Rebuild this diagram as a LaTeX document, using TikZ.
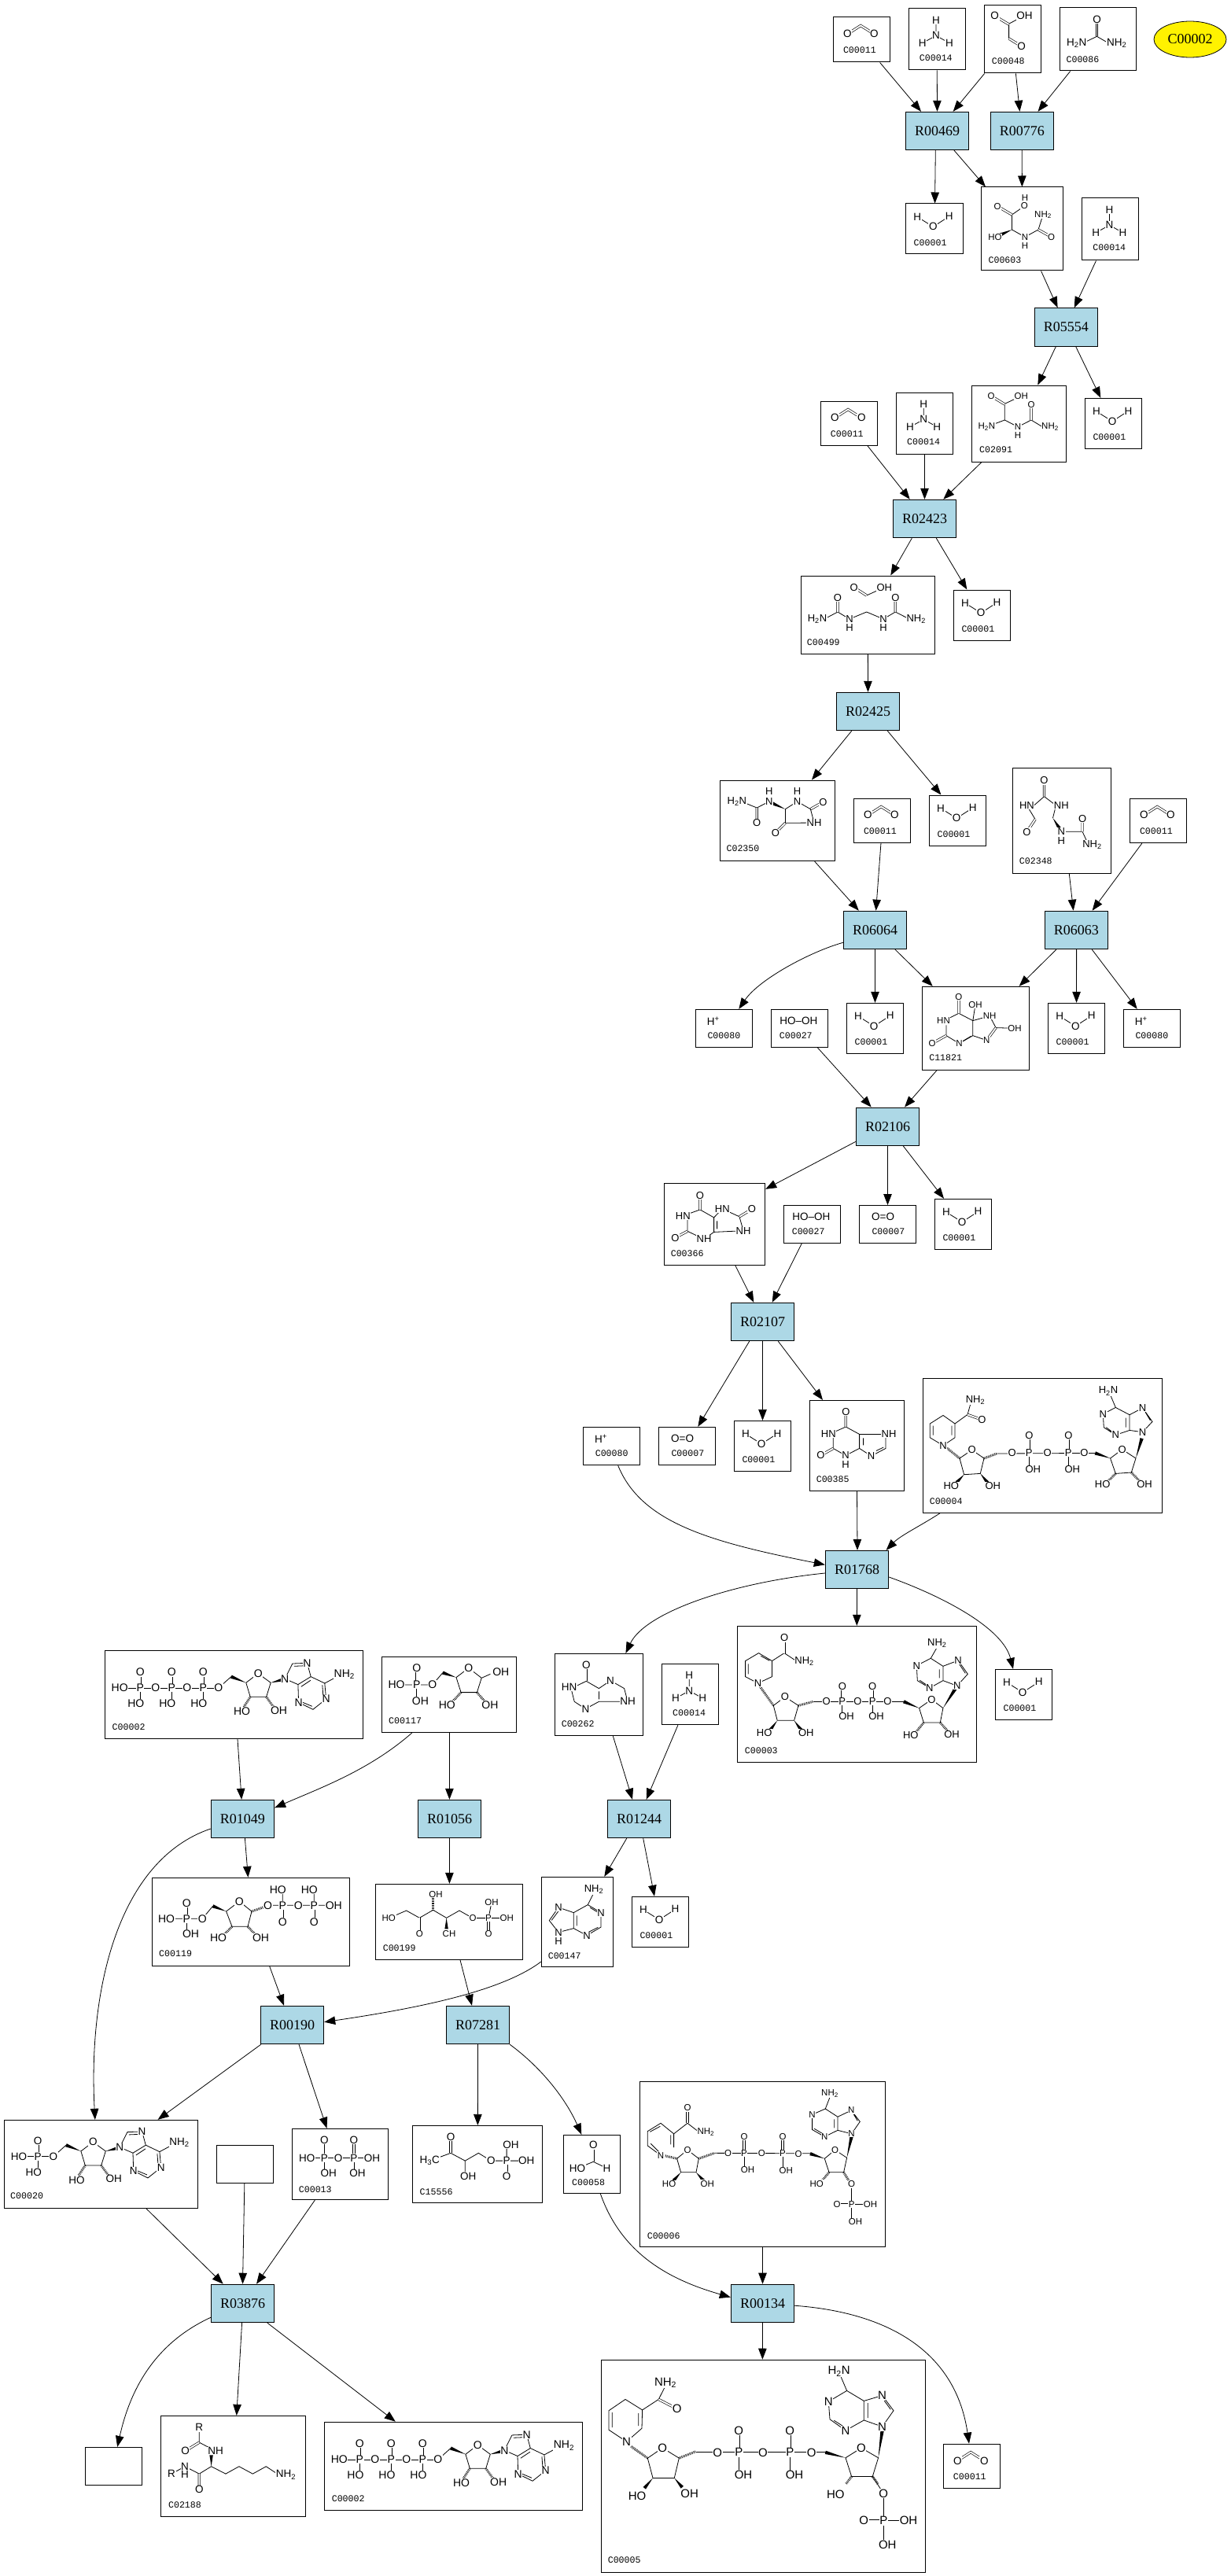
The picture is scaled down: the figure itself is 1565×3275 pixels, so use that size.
\documentclass[tikz,border=0pt]{standalone}
\usepackage{fontspec}
\setmainfont{Liberation Serif}
\setsansfont{Liberation Sans}
\setmonofont{Liberation Mono}
\usepackage{tikz}
\usetikzlibrary{calc,positioning,shapes.geometric,arrows.meta}

\definecolor{reactblue}{HTML}{ADD8E6}
\newcommand{\asz}{13.5}
\tikzset{
	bond/.style={line width=.8pt},
	dbl/.style={double,double distance=1.9pt,line width=.65pt},
	hashbond/.style={line width=3pt,dash pattern=on .7pt off 1.1pt},
	atom/.style={font=\fontsize{\asz}{\asz}\selectfont\sffamily,inner sep=.6pt,fill=white},
	cmpdlabel/.style={font=\fontsize{11.6}{11.6}\selectfont\ttfamily,inner sep=0pt,anchor=west},
	cmpdbox/.style={draw,line width=1pt,fill=white},
	reaction/.style={draw,line width=1pt,fill=reactblue,minimum width=80.4pt,minimum height=48.4pt,font=\fontsize{18}{18}\selectfont},
	edge/.style={line width=.8pt,-{Triangle[length=14pt,width=10.5pt]}}
}
\newcounter{atomno}
\newcommand{\atm}[2]{\stepcounter{atomno}\node[atom] (atm\theatomno) at (#1) {#2};}
\newcommand{\lbl}[3]{\stepcounter{atomno}\node[cmpdlabel] (lbl\theatomno) at (#1,#2) {#3};}
\newcommand{\wdg}[2]{\fill ($(#2)!2.2pt!90:(#1)$) -- (#1) -- ($(#2)!2.2pt!-90:(#1)$) -- cycle;}
\newcommand{\hsh}[2]{\draw[hashbond] (#1) -- (#2);}
\newcommand{\sub}[1]{\textsubscript{#1}}
\newcommand{\cmpd}[6]{%
	\node[cmpdbox,minimum width={(#4-#2)*1pt},minimum height={(#5-#3)*1pt}] (#1) at ({(#2+#4)/2},{(#3+#5)/2}) {};
	\begin{scope}[shift={(#2,#3)}] #6 \end{scope}}
% phosphate with =O above and HO below
\newcommand{\phos}[2]{%
	\draw[dbl] (#1,#2) -- (#1,#2-20);
	\draw[bond] (#1,#2) -- (#1,#2+20);
	\atm{#1,#2}{P}\atm{#1,#2-20}{O}\atm{#1-5.4,#2+20}{HO}}

% small molecules
\newcommand{\mWater}{%
	\draw[bond] (14.7,16.7) -- (34.8,29.3) -- (55.3,16);
	\atm{14.7,16.7}{H}\atm{34.8,29.3}{O}\atm{55.3,16}{H}
	\lbl{10}{49.7}{C00001}}
\newcommand{\mCarbon}{%
	\draw[dbl] (18,21.3) -- (34.8,10.5) -- (52,21.3);
	\atm{18,21.3}{O}\atm{52,21.3}{O}
	\lbl{12.4}{41.7}{C00011}}
\newcommand{\mAmmonia}{%
	\draw[bond] (35,14.7) -- (35,34.3) (17.8,43.7) -- (35,34.3) -- (51.9,43.7);
	\atm{35,14.7}{H}\atm{35,34.3}{N}\atm{17.8,43.7}{H}\atm{51.9,43.7}{H}
	\lbl{13.7}{62.7}{C00014}}
\newcommand{\mPeroxide}{%
	\atm{35,14.6}{HO--OH}
	\lbl{10.3}{33.2}{C00027}}
\newcommand{\mOxygen}{%
	\atm{30.3,14.3}{O=O}
	\lbl{16}{33.2}{C00007}}
\newcommand{\mProton}{%
	\atm{22.7,15}{H\textsuperscript{+}}
	\lbl{15.3}{33.7}{C00080}}
\newcommand{\mGlyox}{%
	\draw[bond] (44,16.7) -- (31.6,23.3) -- (31.6,42);
	\draw[dbl] (13.7,13.3) -- (31.6,24) (31.6,42) -- (47.7,52);
	\atm{13.7,13.3}{O}\atm{51.5,13.3}{OH}\atm{47.7,52}{O}
	\lbl{9.7}{70.3}{C00048}}
\newcommand{\mUrea}{%
	\draw[bond] (30,44.7) -- (47.5,36.3) -- (62,44.7);
	\draw[dbl] (47.5,14.7) -- (47.5,36.3);
	\atm{47.5,14.7}{O}\atm{21.8,44.7}{H\sub{2}N}\atm{72.7,44.7}{NH\sub{2}}
	\lbl{8.4}{65.7}{C00086}}
\newcommand{\mFormate}{%
	\draw[bond] (17.7,42.3) -- (38,34) -- (55.3,42.3);
	\draw[dbl] (38,13) -- (38,34);
	\atm{38,13}{O}\atm{17.7,42.3}{HO}\atm{55.3,42.3}{H}
	\lbl{10.7}{60.7}{C00058}}

% purines, ureides
\newcommand{\mHydroxy}{\renewcommand{\asz}{11.5}%
	\draw[bond] (55.3,24) -- (39.5,35) -- (39.5,54) -- (56,63.3) -- (73,54) -- (79,35);
	\draw[dbl] (21.2,24.3) -- (39.5,35) (73,54) -- (89.7,63.3);
	\wdg{39.5,54}{25,60.5}
	\atm{56,14}{H}\atm{55.3,24}{O}\atm{21.2,24.3}{O}\atm{79,35}{NH\sub{2}}\atm{18,63.3}{HO}\atm{56,63.3}{N}\atm{56,74.3}{H}\atm{89.7,63.3}{O}
	\lbl{9.4}{92.3}{C00603}}
\newcommand{\mAllantoate}{\renewcommand{\asz}{11.5}%
	\draw[bond] (63,13.4) -- (42,23.4) -- (42,44) -- (19,52.7) (42,44) -- (58.7,52.7) -- (75.7,44) -- (90,52.7);
	\draw[dbl] (24.7,13.4) -- (42,24) (75.7,24.4) -- (75.7,44);
	\atm{24.7,13.4}{O}\atm{63,13.4}{OH}\atm{19,52.7}{H\sub{2}N}\atm{58.7,52.7}{N}\atm{58.7,63.4}{H}\atm{75.7,24.4}{O}\atm{99.7,52.7}{NH\sub{2}}
	\lbl{9.7}{81.6}{C02091}}
\newcommand{\mAllantoic}{\renewcommand{\asz}{13}%
	\draw[bond] (30,55) -- (47,46) -- (62,55) -- (83.7,46) -- (105,55) -- (120.3,46) -- (138,55);
	\draw[bond] (83.7,25) -- (106.3,14.8);
	\draw[dbl] (47,28) -- (47,46) (120.3,28) -- (120.3,46) (67.7,14.8) -- (83.7,25);
	\atm{67.7,14.8}{O}\atm{106.3,14.8}{OH}\atm{47,28}{O}\atm{120.3,28}{O}\atm{21,55}{H\sub{2}N}\atm{62,55}{N}\atm{62,66}{H}\atm{105,55}{N}\atm{105,66}{H}\atm{146.7,55}{NH\sub{2}}
	\lbl{7.7}{84.4}{C00499}}
\newcommand{\mHydantoin}{\renewcommand{\asz}{13}%
	\draw[bond] (32,29) -- (46.8,35) -- (62.5,27);
	\draw[dbl] (46.8,53.7) -- (46.8,35) (115,36.7) -- (131,27.7) (83,54.3) -- (70.4,66.7);
	\wdg{83,36.7}{66,29}
	\draw[bond] (83,36.7) -- (98.2,27) -- (115,36.7) -- (119.6,54) -- (83,54.3) -- cycle;
	\atm{21.4,27}{H\sub{2}N}\atm{62.5,14.3}{H}\atm{62.5,27}{N}\atm{98.2,14.3}{H}\atm{98.2,27}{N}\atm{131,27.7}{O}\atm{119.6,54}{NH}\atm{70.4,66.7}{O}\atm{46.8,53.7}{O}
	\lbl{8}{86.7}{C02350}}
\newcommand{\mUreidoGly}{\renewcommand{\asz}{13}%
	\draw[bond] (27,47.7) -- (40,36.3) -- (55,47.7) -- (51,63.7) (17.9,47.7) -- (28.6,65.3) (61.8,81) -- (88.6,81) -- (95,95);
	\draw[dbl] (40,16) -- (40,36.3) (28.6,65.3) -- (17.9,81.3) (88.6,64.3) -- (88.6,81);
	\wdg{51,63.7}{59.5,77}
	\atm{40,16}{O}\atm{17.9,47.7}{HN}\atm{61.8,47.7}{NH}\atm{17.9,81.3}{O}\atm{61.8,81}{N}\atm{61.8,93}{H}\atm{88.6,64.3}{O}\atm{101,97.7}{NH\sub{2}}
	\lbl{8.2}{118.7}{C02348}}
\newcommand{\mHydroxyUrate}{\renewcommand{\asz}{11.5}%
	\draw[bond] (27,43.7) -- (46.4,34) -- (64.3,43.3) -- (64.3,62.3) -- (47,72.3) -- (30.4,62.3) -- (30.4,49);
	\draw[bond] (64.3,43.3) -- (67.5,23) (64.3,43.3) -- (85.7,37.3) -- (93.6,52.3) -- (117.5,53) (64.3,62.3) -- (81.8,68.3);
	\draw[dbl] (46.4,13.3) -- (46.4,34) (30.4,62.3) -- (12.5,72.3) (93.6,52.3) -- (81.8,68.3);
	\draw[bond] (52,69) -- (62,63);
	\atm{46.4,13.3}{O}\atm{67.5,23}{OH}\atm{85.7,37.3}{NH}\atm{117.5,53}{OH}\atm{81.8,68.3}{N}\atm{47,72.3}{N}\atm{12.5,72.3}{O}\atm{27,43.7}{HN}
	\lbl{8.6}{90.7}{C11821}}
\newcommand{\mUrate}{\renewcommand{\asz}{13}%
	\draw[bond] (24,41.4) -- (45.7,33.6) -- (63.3,43.6) -- (63.3,62.1) -- (50.7,71) -- (29.7,61) -- (29.7,41.4);
	\draw[bond] (63.3,43.6) -- (74,32.5) -- (95.7,42.5) -- (100.7,60.4) -- (63.3,62.1) (67.3,48) -- (67.3,58);
	\draw[dbl] (45.7,15.7) -- (45.7,33.6) (95.7,42.5) -- (111.7,32.9) (29.7,61) -- (14,69.3);
	\atm{45.7,15.7}{O}\atm{24,41.4}{HN}\atm{74,32.5}{HN}\atm{111.7,32.9}{O}\atm{100.7,60.4}{NH}\atm{50.7,71}{NH}\atm{14,69.3}{O}
	\lbl{8.3}{89.6}{C00366}}
\newcommand{\mXanthine}{\renewcommand{\asz}{13}%
	\draw[bond] (26,42.5) -- (46,33.6) -- (63.3,43) -- (63.3,61) -- (45.7,70) -- (30,61) -- (30,42.5);
	\draw[bond] (63.3,43) -- (93,43) (63.3,61) -- (78.3,70.7) (68.3,48) -- (68.3,57) (78.3,70.7) -- (96.7,61) -- (96.7,43) (84.7,64) -- (94,59.6);
	\draw[dbl] (46,14.6) -- (46,33.6) (30,61) -- (14,70);
	\atm{46,14.6}{O}\atm{24,42.5}{HN}\atm{100.7,42.5}{NH}\atm{14,70}{O}\atm{45.7,70}{N}\atm{45.7,81.8}{H}\atm{78.3,70.7}{N}
	\lbl{8.3}{100.4}{C00385}}
\newcommand{\mHypoxanthine}{%
	\draw[bond] (24,42.7) -- (39.7,35) -- (55.8,44.3) -- (70.5,34.3) -- (88,44.3) -- (92.4,61) -- (55.8,61) -- (38.8,70.3) -- (24.6,61) -- (20,42.7) (55.8,48) -- (55.8,58);
	\draw[dbl] (39.7,14.3) -- (39.7,35);
	\atm{39.7,14.3}{O}\atm{17.9,42.7}{HN}\atm{70.5,34.3}{N}\atm{92.4,61}{NH}\atm{38.8,70.3}{N}
	\lbl{8}{89.7}{C00262}}
\newcommand{\mAdenine}{\renewcommand{\asz}{13}%
	\draw[bond] (66.7,20) -- (59,35.3) -- (75.7,45.3) -- (75.7,63.7) -- (57.7,74.3) -- (41,65.3) -- (41,45.3) -- (59,35.3) (41,45.3) -- (21.7,38.7) -- (10,55.3) -- (21.7,70.3) -- (41,65.3) (45,49) -- (45,62) (62,39) -- (72,45) (60,70) -- (72,64) (22,43) -- (13,55);
	\atm{66.7,16}{NH\sub{2}}\atm{75.7,45.3}{N}\atm{57.7,74.3}{N}\atm{21.7,38.7}{N}\atm{21.7,70.3}{N}\atm{21.7,82}{H}
	\lbl{8.3}{100.7}{C00147}}

% ribose with adenine, origin at C4 of the sugar
\newcommand{\mAdenosine}{%
	\draw[bond] (-35,6.7) -- (-18.9,-7.7);
	\wdg{0,0}{-18.9,-7.7}
	\draw[bond] (0,0) -- (15.4,-11.7) -- (31.4,0) -- (25.8,18) -- (5.4,18) -- cycle;
	\hsh{5.4,18}{-3,31}\hsh{25.8,18}{35,31}
	\wdg{31.4,0}{47,-4}
	\draw[bond] (49.4,-5) -- (59,-24.3) (59,-24.3) -- (77.7,-25) -- (82.4,-7.7) -- (66.1,2.3) -- (49.4,-5) (61,-21) -- (73,-21.5);
	\draw[bond] (66.1,2.3) -- (66.8,25) -- (85.1,34) -- (101.8,20.7) -- (100,.7) -- (82.4,-7.7) (100,.7) -- (120,-10) (70,5) -- (82,-3) (72,25) -- (84,30) (97,3) -- (98,16);
	\atm{15.4,-11.7}{O}\atm{-5.3,36.7}{HO}\atm{41.8,35}{OH}\atm{49.4,-5}{N}\atm{77.7,-25}{N}\atm{66.8,25}{N}\atm{101.8,20.7}{N}\atm{125,-11}{NH\sub{2}}\atm{-35,6.7}{O}}

\newcommand{\mATP}{\renewcommand{\asz}{14}%
	\draw[bond] (19,47.7) -- (144.6,47.7);
	\phos{45}{47.7}\phos{85}{47.7}\phos{125}{47.7}
	\atm{19,47.7}{HO}\atm{64.6,47.7}{O}\atm{104.6,47.7}{O}
	\begin{scope}[shift={(179.6,41)}]\mAdenosine\end{scope}
	\lbl{9.3}{97.7}{C00002}}
\newcommand{\mAMP}{%
	\draw[bond] (18.4,46.3) -- (62.4,46.3);
	\phos{42.7}{46.3}
	\atm{18.4,46.3}{HO}
	\begin{scope}[shift={(97.4,39.6)}]\mAdenosine\end{scope}
	\lbl{7.5}{96.7}{C00020}}
\newcommand{\mRibP}{\renewcommand{\asz}{14}%
	\draw[bond] (18.6,35.7) -- (64.3,35.7) -- (77.5,20.3);
	\draw[dbl] (44.3,35.7) -- (44.3,14.3);
	\draw[bond] (44.3,35.7) -- (44.3,56.3);
	\wdg{94.6,26.3}{77.5,20.3}
	\draw[bond] (94.6,26.3) -- (110.4,14.3) -- (126.8,27) -- (121,45.3) -- (100.7,45.3) -- cycle (126.8,27) -- (138,22);
	\hsh{100.7,45.3}{90,57}\hsh{121,45.3}{131,57}
	\atm{18.6,35.7}{HO}\atm{44.3,35.7}{P}\atm{44.3,14.3}{O}\atm{49,56.3}{OH}\atm{64.3,35.7}{O}\atm{110.4,14.3}{O}\atm{82.9,61}{HO}\atm{137.5,61}{OH}\atm{151.4,19.7}{OH}
	\lbl{8.6}{81.3}{C00117}}
\newcommand{\mPRPP}{\renewcommand{\asz}{14}%
	\draw[bond] (18.3,52) -- (64,52) -- (77.3,36) (147.3,35) -- (231,35) (166,35) -- (166,15.3) (206,35) -- (206,15.3);
	\draw[dbl] (44,52) -- (44,32) (166,35) -- (166,56) (206,35) -- (206,56);
	\draw[bond] (44,52) -- (44,71.7);
	\wdg{94.3,42.7}{77.3,36}
	\draw[bond] (94.3,42.7) -- (111,30) -- (126.7,42.7) -- (121.7,62) -- (101.7,62) -- cycle;
	\hsh{101.7,62}{91,73}\hsh{121.7,62}{132,73}\hsh{126.7,42.7}{143,37}
	\atm{18.3,52}{HO}\atm{44,52}{P}\atm{44,32}{O}\atm{49.3,71.7}{OH}\atm{64,52}{O}\atm{111,30}{O}\atm{84.3,76.7}{HO}\atm{138.3,76.7}{OH}\atm{147.3,35}{O}\atm{166,35}{P}\atm{160,15.3}{HO}\atm{166,56}{O}\atm{186,35}{O}\atm{206,35}{P}\atm{200,15.3}{HO}\atm{206,56}{O}\atm{231,35}{OH}
	\lbl{8.7}{96.7}{C00119}}
\newcommand{\mRibulose}{\renewcommand{\asz}{11.5}%
	\draw[bond] (17,43.3) -- (39.3,33.7) -- (56,43) -- (73.3,33) -- (90.3,43) -- (106.7,33.7) -- (123.7,43.3) -- (167,43.3) (143.7,43.3) -- (147.7,23);
	\draw[dbl] (56,43) -- (56,63) (143.7,43.3) -- (143.7,63);
	\hsh{73.3,33}{73.3,18}\wdg{90.3,43}{90.3,57}
	\atm{17,43.3}{HO}\atm{56,63}{O}\atm{76.7,13}{OH}\atm{93.7,63}{CH}\atm{123.7,43.3}{O}\atm{143.7,43.3}{P}\atm{147.7,23}{OH}\atm{143.7,63}{O}\atm{167,43.3}{OH}
	\lbl{9.3}{81.7}{C00199}}
\newcommand{\mPPi}{%
	\draw[bond] (18.8,37.3) -- (101.5,37.3) (40.9,37.3) -- (40.9,14.5) (40.9,37.3) -- (40.9,56.9);
	\draw[dbl] (78.5,37.3) -- (78.5,14.5);
	\draw[bond] (78.5,37.3) -- (78.5,56.9);
	\atm{18.8,37.3}{HO}\atm{40.9,37.3}{P}\atm{40.9,14.5}{O}\atm{46.4,56.9}{OH}\atm{58.8,37.3}{O}\atm{78.5,37.3}{P}\atm{78.5,14.5}{O}\atm{83,56.9}{OH}\atm{101.5,37.3}{OH}
	\lbl{8.3}{76.9}{C00013}}
\newcommand{\mMethyl}{%
	\draw[bond] (22,44.7) -- (48.7,34.9) -- (67,44.7) -- (84,34.9) -- (100,44.7) -- (145,44.7) (67,44.7) -- (67,64.3) (119.8,44.7) -- (119.8,24.3);
	\draw[dbl] (48.7,34.9) -- (48.7,14.5) (119.8,44.7) -- (119.8,64.3);
	\atm{22,44.7}{H\sub{3}C}\atm{48.7,14.5}{O}\atm{71,64.3}{OH}\atm{100,44.7}{O}\atm{119.8,44.7}{P}\atm{125.3,24.3}{OH}\atm{119.8,64.3}{O}\atm{145,44.7}{OH}
	\lbl{9.2}{84.7}{C15556}}
\newcommand{\mLysine}{%
	\draw[bond] (49,14.9) -- (49,33.7) -- (69.8,44.7) (30.8,64.3) -- (49,73.7) -- (64.3,64.3) -- (82.6,73.7) -- (99.6,64.3) -- (117,73.7) -- (134,64.3) -- (150,74.9) (13.8,73.7) -- (30.8,64.3);
	\draw[dbl] (49,33.7) -- (31.2,44.7) (49,73.7) -- (49,93.7);
	\wdg{64.3,64.3}{64.3,50}
	\atm{49,14.9}{R}\atm{31.2,44.7}{O}\atm{69.8,44.7}{NH}\atm{30.8,64.3}{N}\atm{30.8,74.9}{H}\atm{13.8,73.7}{R}\atm{49,93.7}{O}\atm{159.3,74.9}{NH\sub{2}}
	\lbl{9.6}{113.3}{C02188}}

% dinucleotides
\newcommand{\mNADH}{\renewcommand{\asz}{13}%
	\draw[bond] (9,57.3) -- (25.7,46.7) -- (40.7,57.3) -- (40.7,75) -- (25.7,85) -- (9,75) -- cycle (13,60) -- (13,72) (36.7,60) -- (36.7,72);
	\draw[bond] (40.7,57.3) -- (56.7,45.7) -- (62,27);
	\draw[dbl] (56.7,45.7) -- (75,52.3);
	\hsh{46.7,101.3}{29,87}
	\draw[bond] (46.7,101.3) -- (62.3,90.7) -- (77.7,101.3) -- (73,120.7) -- (52.3,122) -- cycle;
	\wdg{52.3,122}{43,132}\wdg{73,120.7}{82,132}
	\hsh{77.7,101.3}{94,95.3}
	\draw[bond] (94,95.3) -- (221.7,94.7);
	\draw[dbl] (135,94.7) -- (135,72.3) (185,94.7) -- (185,72.3);
	\draw[bond] (135,94.7) -- (135,115) (185,94.7) -- (185,115);
	\wdg{238.3,101.3}{219,94.7}
	\draw[bond] (238.3,101.3) -- (253.3,90) -- (270.7,101.3) -- (265,119.3) -- (245,120.7) -- cycle;
	\wdg{270.7,101.3}{278.3,76}
	\hsh{245,120.7}{235,131}\hsh{265,119.3}{276,131}
	\draw[bond] (238,20) -- (245,36.7) -- (262.7,46) -- (262.7,65.7) -- (245,71.7) -- (230,62) -- (229,45) -- (245,36.7) (262.7,46) -- (279.3,37.3) -- (291.7,54.7) -- (279.3,68) -- (262.7,65.7) (258,50) -- (258,62) (283,43) -- (289,53) (233,62) -- (241,68);
	\atm{66.7,27.3}{NH\sub{2}}\atm{75,52.3}{O}\atm{25.7,85}{N}\atm{62.3,90.7}{O}\atm{113.3,94.7}{O}\atm{135,94.7}{P}\atm{135,72.3}{O}\atm{140,115}{OH}\atm{158.3,94.7}{O}\atm{185,94.7}{P}\atm{185,72.3}{O}\atm{190,115.7}{OH}\atm{205,94.7}{O}\atm{253.3,90}{O}\atm{36,136.7}{HO}\atm{89,136}{OH}\atm{228.3,134}{HO}\atm{281.7,134}{OH}\atm{235.7,15.7}{H\sub{2}N}\atm{229,45}{N}\atm{245,71.7}{N}\atm{279.3,37.3}{N}\atm{279.3,68}{N}
	\lbl{8.3}{156.3}{C00004}}
\newcommand{\mNAD}{\renewcommand{\asz}{13}%
	\draw[bond] (44.2,44.3) -- (44.2,64.3) -- (26.3,72.7) -- (10.3,64.3) -- (10.3,44.3) -- (27.2,34.3) -- cycle (14,48) -- (14,61) (30,38) -- (41,44);
	\draw[bond] (44.2,44.3) -- (59.8,34.3) -- (76,45);
	\draw[dbl] (59.8,15) -- (59.8,34.3);
	\hsh{46,101}{29,77}
	\draw[bond] (46,101) -- (60.7,90) -- (77.7,101) -- (72.3,120) -- (50.9,120) -- cycle;
	\wdg{50.9,120}{42,132}\wdg{72.3,120}{81,132}
	\hsh{77.7,101}{96.4,96}
	\draw[bond] (96.4,96) -- (211.6,96);
	\draw[dbl] (133.5,96) -- (133.5,76.7) (171.9,96) -- (171.9,76.7);
	\draw[bond] (133.5,96) -- (133.5,115) (171.9,96) -- (171.9,115);
	\wdg{231.3,104.3}{211.6,96}
	\draw[bond] (231.3,104.3) -- (247,93.3) -- (261.6,104.3) -- (258,122.7) -- (237,122.7) -- cycle;
	\wdg{261.6,104.3}{277,80}
	\hsh{237,122.7}{227,135}\hsh{258,122.7}{268,134}
	\draw[bond] (254,27) -- (246,41) -- (261.6,51) -- (261.6,69.3) -- (244.6,78.7) -- (229,69.3) -- (228,50.3) -- (246,41) (261.6,51) -- (280.8,43.7) -- (293,61) -- (279.5,76) -- (261.6,69.3) (257,55) -- (257,66) (282,48) -- (290,60) (232,69) -- (241,75);
	\atm{59.8,15}{O}\atm{85.3,45}{NH\sub{2}}\atm{26.3,72.7}{N}\atm{60.7,90}{O}\atm{34.4,136}{HO}\atm{87.5,136}{OH}\atm{113.4,96}{O}\atm{133.5,96}{P}\atm{133.5,76.7}{O}\atm{138.8,115}{OH}\atm{153,96}{O}\atm{171.9,96}{P}\atm{171.9,76.7}{O}\atm{176.8,115}{OH}\atm{191,96}{O}\atm{247,93.3}{O}\atm{220.5,138.7}{HO}\atm{272.8,137.7}{OH}\atm{279.5,76}{N}\atm{280.8,43.7}{N}\atm{244.6,78.7}{N}\atm{228,50.3}{N}\atm{254,22}{NH\sub{2}}
	\lbl{9.4}{158.7}{C00003}}
\newcommand{\mNADP}{\renewcommand{\asz}{11.5}%
	\draw[bond] (43.3,66.5) -- (43.3,83.7) (26.7,93.9) -- (10,81.6) -- (10,63.3) -- (26.7,53) -- (43.3,66.5) (14,79) -- (24,89) (13,64) -- (26,57) (39.5,68) -- (39.5,80);
	\draw[bond] (43.3,66.5) -- (60.7,53) -- (75,64);
	\draw[dbl] (60.7,33.5) -- (60.7,53);
	\hsh{47.3,98}{30,94}
	\draw[bond] (47.3,98) -- (60.7,87) -- (75,98) -- (71.7,115.5) -- (52.3,115.5) -- cycle;
	\wdg{52.3,115.5}{43,126}\wdg{71.7,115.5}{81,126}
	\hsh{75,98}{95,91}
	\draw[bond] (95,91) -- (216.7,91.5);
	\draw[dbl] (132.7,91) -- (132.7,70.2) (181.7,91) -- (181.7,70.2);
	\draw[bond] (132.7,91) -- (132.7,112) (181.7,91) -- (181.7,112);
	\wdg{235,98}{216.7,91.8}
	\draw[bond] (235,98) -- (248.3,87) -- (263.3,97) -- (259.3,115.5) -- (240.7,115.5) -- cycle;
	\wdg{263.3,97}{269.3,70}
	\hsh{240.7,115.5}{231,127}\hsh{259.3,115.5}{267,128}
	\draw[bond] (269.3,156.3) -- (269.3,130.6) (269.3,156.3) -- (269.3,178) (269.3,156.3) -- (293.3,156.3);
	\draw[dbl] (269.3,156.3) -- (250.7,156.3);
	\draw[bond] (241.7,20) -- (236,34.7) -- (251.7,44.9) -- (251.7,62) -- (235,70.2) -- (219.3,61.2) -- (219.3,42) -- (236,34.7) (251.7,44.9) -- (269,36.7) -- (280,51) -- (269.3,66.5) -- (251.7,62) (247.5,48) -- (247.5,59) (271,40) -- (277,50) (222,60) -- (232,66);
	\atm{60.7,33.5}{O}\atm{84,64}{NH\sub{2}}\atm{26.7,93.9}{N}\atm{60.7,87}{O}\atm{37.3,130.6}{HO}\atm{86,129.8}{OH}\atm{112.3,91}{O}\atm{132.7,91}{P}\atm{132.7,70.2}{O}\atm{137.3,112.2}{OH}\atm{155,91}{O}\atm{181.7,91}{P}\atm{181.7,70.2}{O}\atm{186,113}{OH}\atm{201.7,91.8}{O}\atm{248.3,87}{O}\atm{225,129.8}{HO}\atm{269.3,130.6}{O}\atm{269.3,156.3}{P}\atm{250.7,156.3}{O}\atm{293.3,156.3}{OH}\atm{274.3,178}{OH}\atm{269.3,66.5}{N}\atm{269,36.7}{N}\atm{235,70.2}{N}\atm{219.3,42}{N}\atm{241.7,15}{NH\sub{2}}
	\lbl{9.3}{196.3}{C00006}}
\newcommand{\mNADPH}{\renewcommand{\asz}{15}%
	\draw[bond] (32.3,104) -- (51.7,87) -- (52.3,63.7) -- (30.7,50.2) -- (9.7,64.5) -- (9.7,89) -- (32.3,104) (14,67) -- (14,86) (47.5,68) -- (47.5,84);
	\draw[bond] (52.3,63.7) -- (73,50.2) -- (81.7,33);
	\draw[dbl] (73,50.2) -- (92,60);
	\hsh{59,124.9}{38,110}
	\draw[bond] (59,124.9) -- (78,112) -- (99,124.9) -- (93,150.2) -- (65.7,150.2) -- cycle;
	\wdg{65.7,150.2}{55,163}\wdg{93,150.2}{103,162}
	\hsh{99,124.9}{120.7,116.3}
	\draw[bond] (120.7,117.6) -- (287.3,117.6);
	\draw[dbl] (175,117.6) -- (175,90.2) (240,117.6) -- (240,90.2);
	\draw[bond] (175,117.6) -- (175,145) (240,117.6) -- (240,145);
	\wdg{310.7,124.5}{285,117.6}
	\draw[bond] (310.7,124.5) -- (330.7,112) -- (352.3,124.5) -- (345,148.2) -- (318.3,148.2) -- cycle;
	\wdg{352.3,124.5}{357.3,90}
	\hsh{318.3,148.2}{311,158}\hsh{345,148.2}{352,158}
	\draw[bond] (359,170) -- (359,234.7) (359,204.5) -- (390.7,204.5);
	\draw[dbl] (359,204.5) -- (334,204.5);
	\draw[bond] (345,148.2) -- (359,170);
	\draw[bond] (305,22) -- (312.3,39.2) -- (334,52.2) -- (334,76.7) -- (310.7,89.8) -- (290.7,75.5) -- (289,53) -- (312.3,39.2) (334,52.2) -- (357.3,45.3) -- (371.7,64.5) -- (357.3,84.9) -- (334,76.7) (339,55) -- (339,74) (360,52) -- (368,63) (296,77) -- (307,84);
	\atm{81.7,29}{NH\sub{2}}\atm{96.3,61.6}{O}\atm{32.3,104}{N}\atm{78,112}{O}\atm{45.7,172.7}{HO}\atm{112.3,169.8}{OH}\atm{148,117.6}{O}\atm{175,117.6}{P}\atm{175,90.2}{O}\atm{180.7,145.7}{OH}\atm{205.7,117.6}{O}\atm{240,117.6}{P}\atm{240,90.2}{O}\atm{245.7,146.5}{OH}\atm{267.3,117.6}{O}\atm{330.7,112}{O}\atm{298,171.4}{HO}\atm{359,170}{O}\atm{359,204.5}{P}\atm{334,204.5}{O}\atm{390.7,204.5}{OH}\atm{364,234.7}{OH}\atm{357.3,84.9}{N}\atm{357.3,45.3}{N}\atm{310.7,89.8}{N}\atm{289,53}{N}\atm{302.3,14.7}{H\sub{2}N}
	\lbl{8.3}{254.7}{C00005}}

\begin{document}
\begin{tikzpicture}[x=1pt,y=-1pt]
	\useasboundingbox (0,0) rectangle (1565,3275);
	\fill[white] (0,0) rectangle (1565,3275);
	% compounds, top to bottom
	\cmpd{C00011a}{1059.4}{22}{1131.7}{79}{\mCarbon}
	\cmpd{C00014a}{1155}{11}{1227.5}{89}{\mAmmonia}
	\cmpd{C00048}{1251}{7}{1323.6}{93}{\mGlyox}
	\cmpd{C00086}{1347}{10}{1444}{90}{\mUrea}
	\node[ellipse,draw,line width=.8pt,fill=yellow,minimum width=92pt,minimum height=46pt,inner sep=0pt,font=\fontsize{18}{18}\selectfont] (C00002top) at (1513,50) {C00002};
	\cmpd{C00001a}{1151.5}{259}{1224}{323}{\mWater}
	\cmpd{C00603}{1247}{238}{1351.7}{344}{\mHydroxy}
	\cmpd{C00014b}{1375.5}{252}{1447.8}{331}{\mAmmonia}
	\cmpd{C00011b}{1043.3}{510}{1115.7}{566}{\mCarbon}
	\cmpd{C00014c}{1139.3}{499}{1211.7}{577}{\mAmmonia}
	\cmpd{C02091}{1235.3}{490}{1355.7}{587}{\mAllantoate}
	\cmpd{C00001b}{1379.3}{506.4}{1451.7}{570.5}{\mWater}
	\cmpd{C00499}{1018}{732}{1188.7}{831}{\mAllantoic}
	\cmpd{C00001c}{1212.3}{750}{1284.7}{814}{\mWater}
	\cmpd{C02350}{915.4}{992}{1061.8}{1094.7}{\mHydantoin}
	\cmpd{C00011c}{1085.4}{1015}{1157.5}{1071.7}{\mCarbon}
	\cmpd{C00001d}{1181.4}{1011}{1253.6}{1075.7}{\mWater}
	\cmpd{C02348}{1287.5}{976.3}{1412.5}{1110.3}{\mUreidoGly}
	\cmpd{C00011d}{1436.4}{1015}{1508.5}{1071.7}{\mCarbon}
	\cmpd{C00080a}{884}{1283.3}{956.4}{1331.3}{\mProton}
	\cmpd{C00027a}{980.4}{1283.3}{1052.5}{1331.3}{\mPeroxide}
	\cmpd{C00001e}{1076.4}{1275.3}{1148}{1339.3}{\mWater}
	\cmpd{C11821}{1172.5}{1254.3}{1308}{1360.3}{\mHydroxyUrate}
	\cmpd{C00001f}{1332.5}{1275.3}{1404.6}{1339.3}{\mWater}
	\cmpd{C00080b}{1428}{1283.3}{1500}{1331.3}{\mProton}
	\cmpd{C00366}{844.3}{1504.3}{972.7}{1608.2}{\mUrate}
	\cmpd{C00027b}{996.3}{1532.5}{1068.7}{1580.4}{\mPeroxide}
	\cmpd{C00007a}{1092.3}{1532.5}{1164.7}{1580.4}{\mOxygen}
	\cmpd{C00001g}{1188.3}{1524.3}{1260.7}{1588.2}{\mWater}
	\cmpd{C00007b}{837.3}{1814.3}{909.7}{1862.5}{\mOxygen}
	\cmpd{C00001h}{933.3}{1806.4}{1005.7}{1870.7}{\mWater}
	\cmpd{C00385}{1029.3}{1780.4}{1149.7}{1895.4}{\mXanthine}
	\cmpd{C00004}{1173.3}{1752.7}{1477.7}{1923.3}{\mNADH}
	\cmpd{C00080c}{741.3}{1814.3}{813.7}{1862.7}{\mProton}
	\cmpd{C00262}{705.6}{2102.3}{817.7}{2206.7}{\mHypoxanthine}
	\cmpd{C00014d}{841.3}{2115.3}{913.7}{2192.7}{\mAmmonia}
	\cmpd{C00003}{937.3}{2067.3}{1241.3}{2240.3}{\mNAD}
	\cmpd{C00001i}{1265.4}{2122.3}{1337.8}{2186.7}{\mWater}
	\cmpd{C00002a}{133.2}{2098.3}{461.8}{2210.3}{\mATP}
	\cmpd{C00117}{485.4}{2106.3}{656.8}{2202.7}{\mRibP}
	\cmpd{C00119}{193.3}{2387.3}{444.7}{2499.3}{\mPRPP}
	\cmpd{C00199}{477.3}{2395.3}{664.7}{2491.3}{\mRibulose}
	\cmpd{C00147}{688.3}{2386.3}{779.7}{2500.3}{\mAdenine}
	\cmpd{C00001j}{803.3}{2411.3}{875.7}{2475.3}{\mWater}
	\cmpd{C00020}{5.5}{2695.3}{251.6}{2807.5}{\mAMP}
	\cmpd{blankA}{275.5}{2727.5}{347.6}{2775.7}{}
	\cmpd{C00013}{371.4}{2706.3}{493.6}{2796.5}{\mPPi}
	\cmpd{C15556}{524.3}{2702.4}{689.6}{2800.4}{\mMethyl}
	\cmpd{C00058}{716.3}{2714.3}{788.7}{2788.4}{\mFormate}
	\cmpd{C00006}{813.3}{2646.3}{1125.7}{2856.5}{\mNADP}
	\cmpd{blankB}{108.4}{3111.4}{180.4}{3159.6}{}
	\cmpd{C02188}{204.3}{3071.4}{388.4}{3199.6}{\mLysine}
	\cmpd{C00002b}{412.3}{3079.2}{740.9}{3191.4}{\mATP}
	\cmpd{C00005}{764.3}{3000.2}{1176}{3270}{\mNADPH}
	\cmpd{C00011e}{1199.3}{3107.1}{1271.7}{3163.5}{\mCarbon}
	% reactions
	\node[reaction] (R00469) at (1191.5,166.5) {R00469};
	\node[reaction] (R00776) at (1299.3,166.5) {R00776};
	\node[reaction] (R05554) at (1355.3,416) {R05554};
	\node[reaction] (R02423) at (1175.5,659.5) {R02423};
	\node[reaction] (R02425) at (1103.5,904.5) {R02425};
	\node[reaction] (R06064) at (1112.5,1182.4) {R06064};
	\node[reaction] (R06063) at (1368.3,1182.4) {R06063};
	\node[reaction] (R02106) at (1128.5,1432.3) {R02106};
	\node[reaction] (R02107) at (969.5,1680.5) {R02107};
	\node[reaction] (R01768) at (1089.5,1995.5) {R01768};
	\node[reaction] (R01049) at (308.4,2312.5) {R01049};
	\node[reaction] (R01056) at (571.6,2312.5) {R01056};
	\node[reaction] (R01244) at (812.5,2312.5) {R01244};
	\node[reaction] (R00190) at (371.5,2574.5) {R00190};
	\node[reaction] (R07281) at (607.5,2574.5) {R07281};
	\node[reaction] (R03876) at (308.5,2928.4) {R03876};
	\node[reaction] (R00134) at (969.5,2928.4) {R00134};
	% edges from the bottom of one node to the top of the next
	\foreach \src/\fromx/\dst/\tox in {
		C00011a/23.1/R00469/-20.5, C00014a/0/R00469/0, C00048/-35.7/R00469/20.2,
		C00048/4.1/R00776/-2.9, C00086/-34.8/R00776/20.2,
		R00469/-2.2/C00001a/.8, R00469/21.5/C00603/-46.4, R00776/0/C00603/0,
		C00603/24.2/R05554/-10.7, C00014b/-18.2/R05554/10.4,
		R05554/-13/C02091/23.8, R05554/12.4/C00001b/-16.2,
		C00011b/23.2/R02423/-18.8, C00014c/0/R02423/0, C02091/-47.5/R02423/23.8,
		R02423/-16.2/C00499/28.9, R02423/14.8/C00001c/-19.2, C00499/0/R02425/0,
		R02425/-20.8/C02350/43.4, R02425/24.8/C00001d/-21.1,
		C02350/47.1/R06064/-20.7, C00011c/-1.5/R06064/1.1,
		C02348/9.3/R06063/-3.7, C00011d/-20.7/R06063/20.3,
		R06064/0/C00001e/.3, R06064/25.4/C11821/-54.6,
		R06063/-25.4/C11821/55.4, R06063/.3/C00001f/0, R06063/19.9/C00080b/-18.3,
		C00027a/22.8/R02106/-20.8, C11821/-49.3/R02106/21.5,
		R02106/0/C00007a/0, R02106/19.8/C00001g/-24.5,
		C00366/26.2/R02107/-11.2, C00027b/-13.2/R02107/12.2,
		R02107/-16.8/C00007b/13.8, R02107/0/C00001h/0, R02107/19.8/C00385/-43.5,
		C00385/0/R01768/.5, R01768/0/C00003/0,
		C00262/17.7/R01244/-8.5, C00014d/-15.6/R01244/9.2,
		R01244/-15.8/C00147/34.3, R01244/5.2/C00001j/-7.5,
		C00002a/4.5/R01049/-1.3, C00117/.3/R01056/-.2,
		R01049/3/C00119/-3.6, R01056/-.2/C00199/.4,
		C00119/23.7/R00190/-10.5, C00199/14/R07281/-7.5,
		R00190/-39.8/C00020/72.1, R00190/8.5/C00013/-17, R07281/0/C15556/.4,
		C00020/57.5/R03876/-24.8, blankA/-.7/R03876/0, C00013/-32.1/R03876/17.5,
		R03876/-.9/C02188/4.4, R03876/31.3/C00002b/-73.8,
		C00006/0/R00134/0, R00134/0/C00005/-.8} {
		\draw[edge] ([xshift=\fromx pt]\src.south) -- ([xshift=\tox pt]\dst.north);
	}
	% edges that leave or enter at a side, or bend
	\draw[edge] ([xshift=-130.5pt]C00004.south) .. controls (1170,1940) and (1145,1952) .. ([xshift=37.1pt]R01768.north);
	\draw[edge] ([yshift=-19.1pt]R02106.west) -- ([yshift=-8pt]C00366.north east);
	\draw[edge] ([yshift=-15.9pt]R06064.west) .. controls (1030,1210) and (965,1245) .. ([xshift=19.1pt]C00080a.north);
	\draw[edge] ([xshift=8.2pt]C00080c.south) .. controls (815,1935) and (900,1960) .. ([yshift=6.2pt]R01768.west);
	\draw[edge] ([yshift=-4.5pt]R01768.west) .. controls (930,2012) and (820,2050) .. ([xshift=33.8pt]C00262.north);
	\draw[edge] ([yshift=-9.5pt]R01768.east) .. controls (1200,2030) and (1275,2070) .. ([xshift=-13.6pt]C00001i.north);
	\draw[edge] ([xshift=-47.5pt]C00117.south) .. controls (470,2250) and (410,2272) .. ([yshift=14.2pt]R01049.east);
	\draw[edge] ([yshift=-12.5pt]R01049.west) .. controls (150,2365) and (112,2530) .. ([xshift=-7.7pt]C00020.north);
	\draw[edge] ([yshift=-50.7pt]C00147.west) .. controls (640,2530) and (540,2552) .. ([yshift=3.8pt]R00190.east);
	\draw[edge] (R07281.south east) .. controls (690,2630) and (720,2670) .. ([xshift=-13.2pt]C00058.north);
	\draw[edge] ([xshift=10.8pt]C00058.south) .. controls (790,2865) and (850,2898) .. ([yshift=7.8pt]R00134.west);
	\draw[edge] ([yshift=-2.8pt]R00134.east) .. controls (1130,2940) and (1215,2990) .. ([xshift=-3.5pt]C00011e.north);
	\draw[edge] ([yshift=-17.9pt]R03876.west) .. controls (195,2980) and (165,3040) .. ([xshift=4.8pt]blankB.north);
\end{tikzpicture}
\end{document}
